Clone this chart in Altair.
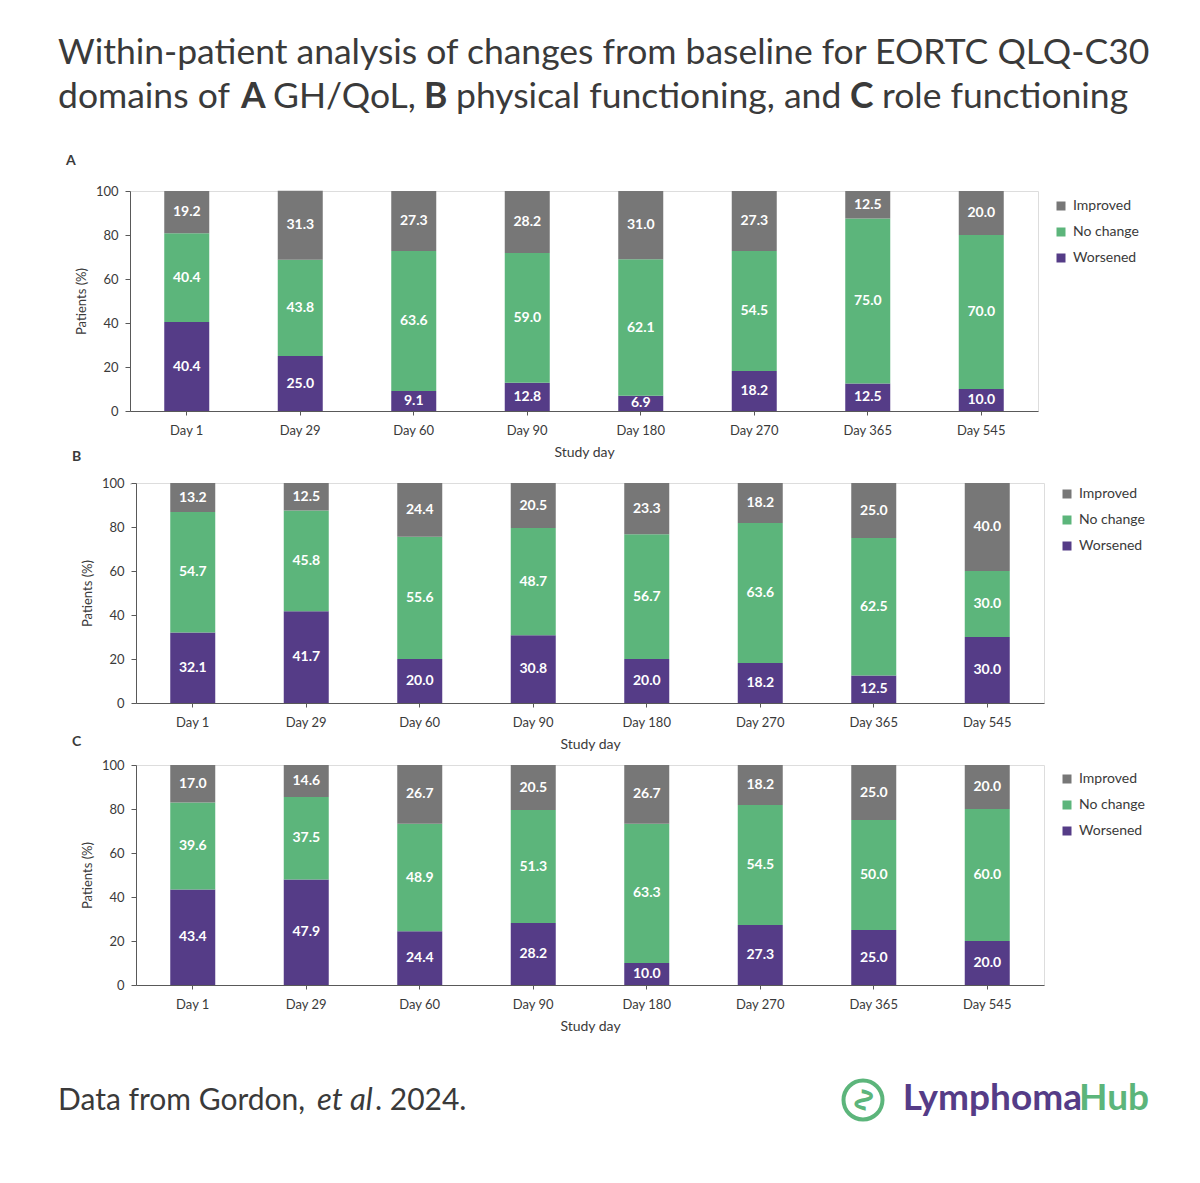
import altair as alt
import pandas as pd

# ---------------- data ----------------
days = ["Day 1", "Day 29", "Day 60", "Day 90", "Day 180", "Day 270", "Day 365", "Day 545"]
categories = ["Improved", "No change", "Worsened"]
colors = ["#777777", "#5cb57b", "#553c87"]

a_worsened = [40.4, 25.0, 9.1, 12.8, 6.9, 18.2, 12.5, 10.0]
a_nochange = [40.4, 43.8, 63.6, 59.0, 62.1, 54.5, 75.0, 70.0]
a_improved = [19.2, 31.3, 27.3, 28.2, 31.0, 27.3, 12.5, 20.0]

b_worsened = [32.1, 41.7, 20.0, 30.8, 20.0, 18.2, 12.5, 30.0]
b_nochange = [54.7, 45.8, 55.6, 48.7, 56.7, 63.6, 62.5, 30.0]
b_improved = [13.2, 12.5, 24.4, 20.5, 23.3, 18.2, 25.0, 40.0]

c_worsened = [43.4, 47.9, 24.4, 28.2, 10.0, 27.3, 25.0, 20.0]
c_nochange = [39.6, 37.5, 48.9, 51.3, 63.3, 54.5, 50.0, 60.0]
c_improved = [17.0, 14.6, 26.7, 20.5, 26.7, 18.2, 25.0, 20.0]

FONT = "Lato"
TXT = "#3a3a3a"
AX = "#595959"
PW, PH = 908, 220
one = pd.DataFrame({"k": [0]})


def make_df(w, n, i):
    rows = []
    for cat, order, vals in (("Worsened", 0, w), ("No change", 1, n), ("Improved", 2, i)):
        for d, v in zip(days, vals):
            rows.append({"day": d, "category": cat, "order": order, "value": v})
    return pd.DataFrame(rows)


def txt(s, x, y, size, weight="normal", color=TXT, style="normal", align="left",
        baseline="alphabetic", angle=0, font=FONT):
    return alt.Chart(one).mark_text(
        text=s, fontSize=size, fontWeight=weight, fontStyle=style, color=color,
        align=align, baseline=baseline, angle=angle, font=font
    ).encode(x=alt.value(x), y=alt.value(y))


Y_AXIS = alt.Axis(values=[0, 20, 40, 60, 80, 100], labelFont=FONT, labelFontSize=13,
                  labelColor=TXT, labelPadding=7, tickSize=5, tickColor=AX,
                  domainColor=AX, grid=False, titleFont=FONT, titleFontSize=13,
                  titleFontWeight="normal", titleColor=TXT, titlePadding=7)


def panel(letter, w, n, i, letter_y, leg_y, leg_x, extra=()):
    df = make_df(w, n, i)
    base = alt.Chart(df).transform_stack(
        stack="value", groupby=["day"], as_=["v0", "v1"],
        sort=[alt.SortField("order", order="ascending")]
    ).transform_calculate(mid="(datum.v0 + datum.v1) / 2")

    x = alt.X(
        "day:N", sort=days, title="Study day",
        scale=alt.Scale(paddingInner=0, paddingOuter=0),
        axis=alt.Axis(labelAngle=0, labelFont=FONT, labelFontSize=13, labelColor=TXT,
                      labelPadding=9, tickSize=4, tickColor=AX, domainColor=AX,
                      titleFont=FONT, titleFontSize=14, titleFontWeight="normal",
                      titleColor=TXT, titlePadding=8, grid=False),
    )
    yscale = alt.Scale(domain=[0, 100], nice=False)
    bars = base.mark_bar(size=45).encode(
        x=x,
        y=alt.Y("v0:Q", scale=yscale, title="Patients (%)", axis=Y_AXIS),
        y2="v1:Q",
        color=alt.Color("category:N", scale=alt.Scale(domain=categories, range=colors),
                        legend=alt.Legend(title=None, orient="none", legendX=leg_x, legendY=leg_y,
                                          symbolType="square", symbolSize=81,
                                          symbolStrokeWidth=0, labelFont=FONT,
                                          labelFontSize=14, labelColor=TXT, rowPadding=12,
                                          labelOffset=5, padding=0)),
    )
    labels = base.mark_text(color="white", fontWeight="bold", fontSize=14, font=FONT,
                            baseline="middle").encode(
        x=x,
        y=alt.Y("mid:Q", scale=yscale, title="Patients (%)", axis=Y_AXIS),
        text=alt.Text("value:Q", format=".1f"),
    )
    tag = txt(letter, -64, letter_y, 14, weight="bold", baseline="middle")
    return alt.layer(bars, labels, tag, *extra).properties(width=PW, height=PH)


TS = 35.5
# main title (placed relative to panel A's plot area)
title_parts = [
    txt("Within-patient analysis of changes from baseline for EORTC QLQ-C30", -72, -127, TS),
    txt("domains of", -72, -83, TS),
    txt("A", 111, -83, TS, weight="bold"),
    txt("GH/QoL,", 143, -83, TS),
    txt("B", 294, -83, TS, weight="bold"),
    txt("physical functioning, and", 326, -83, TS),
    txt("C", 720, -83, TS, weight="bold"),
    txt("role functioning", 752, -83, TS),
]

# footer & logo (placed relative to panel C's plot area)
footer_parts = [
    txt("Data from Gordon,", -78, 345, 30),
    txt("et al", 181, 345, 31, style="italic"),
    txt(". 2024.", 239, 345, 30),
    alt.Chart(one).mark_point(shape="circle", filled=False, size=1520, strokeWidth=4,
                              color="#5cb57b", opacity=1).encode(x=alt.value(727), y=alt.value(335)),
    txt("\u223f", 727, 335, 34, weight="bold", color="#5cb57b", align="center",
        baseline="middle", angle=90, font="DejaVu Sans"),
    txt("Lymphoma", 946, 345, 37, weight="bold", color="#553c87", align="right"),
    txt("Hub", 1013, 345, 37, weight="bold", color="#5cb57b", align="right"),
]

pA = panel("A", a_worsened, a_nochange, a_improved, -30, 8, 924, extra=title_parts)
pB = panel("B", b_worsened, b_nochange, b_improved, -26, 4, 924)
pC = panel("C", c_worsened, c_nochange, c_improved, -23, 7, 924, extra=footer_parts)

spacer = alt.Chart(one).mark_point(opacity=0).encode(
    x=alt.value(0), y=alt.value(0)).properties(width=1, height=1)

inner = alt.vconcat(pB, pC, spacing=62, bounds="flush").resolve_scale(
    color="independent").resolve_legend(color="independent")
mid = alt.hconcat(spacer, inner, spacing=5, bounds="flush").resolve_scale(
    color="independent").resolve_legend(color="independent")
chart = alt.vconcat(pA, mid, spacing=72, bounds="flush").resolve_scale(
    color="independent").resolve_legend(color="independent").properties(
    padding={"left": 49, "top": 27, "right": 5, "bottom": 5},
    background="white",
).configure_view(strokeWidth=0, stroke="transparent").configure(font=FONT)

chart.save("out.html", embed_options={"renderer": "svg", "actions": False})
